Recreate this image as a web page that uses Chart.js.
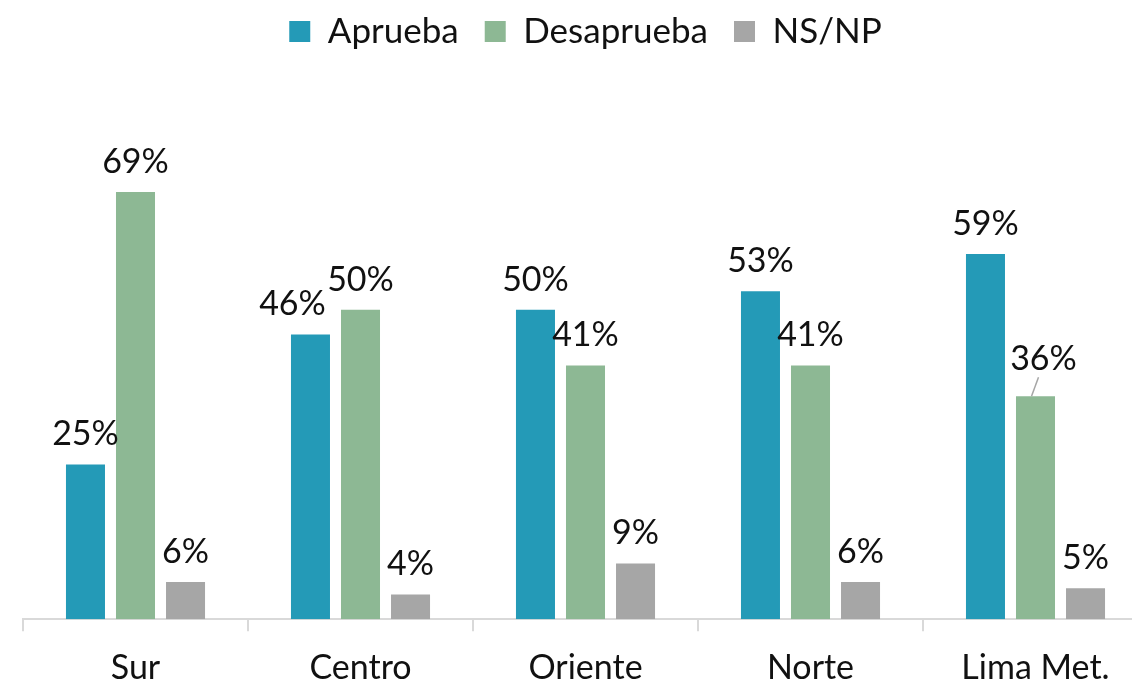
<!DOCTYPE html>
<html>
<head>
<meta charset="utf-8">
<script src="https://cdn.jsdelivr.net/npm/chart.js@4"></script>
<style>
    html, body { margin: 0; padding: 0; background: #fff; overflow: hidden; }
    #wrap { width: 1160px; height: 704px; position: relative; }
</style>
</head>
<body>
<div id="wrap"><canvas id="chart"></canvas></div>
<script>
// Datos
const categories = ['Sur', 'Centro', 'Oriente', 'Norte', 'Lima Met.'];
const aprueba = [25, 46, 50, 53, 59];
const desaprueba = [69, 50, 41, 41, 36];
const nsnp = [6, 4, 9, 6, 5];

const FONT = 'Lato, "Noto Sans", sans-serif';

// Etiquetas encima de las barras
const barLabels = {
    id: 'barLabels',
    afterDatasetsDraw(chart, args, opts) {
        const ctx = chart.ctx;
        ctx.save();
        ctx.font = `34px ${FONT}`;
        ctx.fillStyle = '#111';
        ctx.textAlign = 'center';
        ctx.textBaseline = 'bottom';
        chart.data.datasets.forEach((ds, di) => {
            chart.getDatasetMeta(di).data.forEach((bar, i) => {
                const s = (opts.shift[di] && opts.shift[di][i]) || [0, 0];
                const x = bar.x + s[0];
                const y = bar.y - 13 + s[1];
                ctx.fillText(ds.data[i] + '%', x, y);
                if (s[1] < 0) {
                    ctx.strokeStyle = '#a6a6a6';
                    ctx.lineWidth = 1.5;
                    ctx.beginPath();
                    ctx.moveTo(x - 5, y + 1);
                    ctx.lineTo(bar.x - 4, bar.y);
                    ctx.stroke();
                }
            });
        });
        ctx.restore();
    }
};

new Chart(document.getElementById('chart'), {
    type: 'bar',
    data: {
        labels: categories,
        datasets: [
            { label: 'Aprueba', data: aprueba, backgroundColor: '#249ab7' },
            { label: 'Desaprueba', data: desaprueba, backgroundColor: '#8db894' },
            { label: 'NS/NP', data: nsnp, backgroundColor: '#a6a6a6' }
        ]
    },
    options: {
        responsive: true, maintainAspectRatio: false, animation: false,
        layout: { padding: { left: 23, right: 12, top: -12, bottom: 0 } },
        datasets: { bar: { categoryPercentage: 0.667, barPercentage: 0.78 } },
        plugins: {
            legend: {
                position: 'top',
                labels: { font: { size: 35, family: FONT }, color: '#111', boxWidth: 21, boxHeight: 21, padding: 26 }
            },
            tooltip: { enabled: false },
            barLabels: { shift: { 0: { 1: [-18, 0] }, 1: { 4: [8, -7] } } }
        },
        scales: {
            y: { display: false, min: 0, max: 90.5 },
            x: {
                offset: true,
                grid: { offset: true, drawOnChartArea: false, tickLength: 12, color: '#d9d9d9', lineWidth: 2 },
                border: { color: '#d9d9d9', width: 2 },
                ticks: { font: { size: 34, family: FONT }, color: '#111', padding: 16 }
            }
        }
    },
    plugins: [barLabels]
});
</script>
</body>
</html>
